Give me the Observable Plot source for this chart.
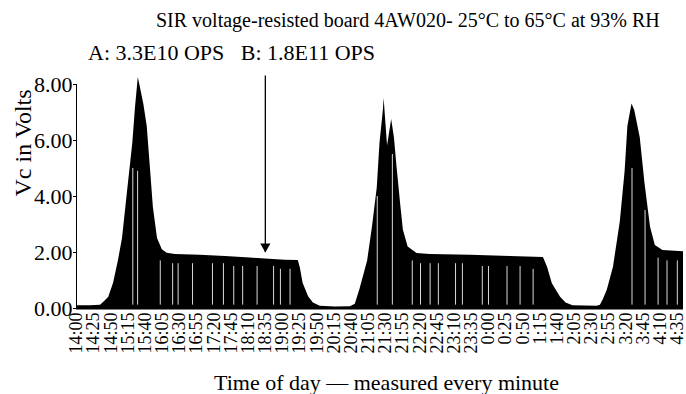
<!DOCTYPE html>
<html><head><meta charset="utf-8">
<script src="https://cdn.jsdelivr.net/npm/d3@7"></script>
<script src="https://cdn.jsdelivr.net/npm/@observablehq/plot@0.6"></script>
<style>
body{margin:0;background:#fff;font-family:"Liberation Serif",serif;color:#000;width:686px;overflow:hidden;}
#title{height:40px;line-height:40px;font-size:20px;padding-left:156px;white-space:nowrap;}
#subtitle{height:26px;line-height:26px;font-size:22px;padding-left:88px;white-space:pre;}
#chart svg{display:block;}
#xlabel{height:28px;line-height:34px;font-size:22px;padding-left:214px;white-space:nowrap;}
</style></head><body>
<div id="title"></div><div id="subtitle"></div><div id="chart"></div><div id="xlabel"></div>
<script>
const titleText = "SIR voltage-resisted board 4AW020- 25°C to 65°C at 93% RH";
const subtitleText = "A: 3.3E10 OPS   B: 1.8E11 OPS";
const xTitle = "Time of day \u2014 measured every minute";
const yTitle = "Vc in Volts";

// minutes after 14:00 and measured Vc (volts)
const minutes = [0,20,35,41,47,54,61,67,74,82,86,90,93,98,103,108,112,118,125,132,144,180,217,253,275,304,323,326,330,338,345,355,377,399,406,413,424,431,438,442,447,448,453,459,463,467,472,476,483,496,515,574,632,680,686,693,705,713,723,758,763,767,773,782,792,799,803,809,813,821,828,836,843,854,884];
const volts   = [0.10,0.10,0.12,0.25,0.40,0.90,1.70,2.50,4.10,5.90,7.20,8.25,7.90,7.30,6.50,4.90,3.60,2.50,2.10,1.97,1.93,1.90,1.86,1.80,1.77,1.72,1.71,1.45,0.90,0.42,0.20,0.08,0.05,0.06,0.15,0.70,1.70,2.90,4.30,5.90,7.10,7.50,5.80,6.75,6.10,5.00,3.75,2.80,2.20,1.96,1.93,1.90,1.86,1.82,1.47,0.88,0.40,0.20,0.10,0.08,0.12,0.30,0.65,1.47,3.10,4.90,6.50,7.30,7.07,6.10,4.45,2.90,2.25,2.07,2.03];

// minutes with a low (white) reading streak, and the height the streak reaches
const gapMinutes = [82,89,122,140,148,169,198,214,229,242,263,287,297,311,438,460,489,501,515,527,552,562,591,600,627,646,665,809,828,847,860,875];
const gapTopV    = [5.0,4.9,1.7,1.6,1.6,1.6,1.6,1.6,1.5,1.5,1.5,1.5,1.4,1.4,4.0,5.5,1.7,1.6,1.6,1.6,1.6,1.6,1.5,1.5,1.5,1.5,1.4,5.0,3.5,1.8,1.7,1.7];

const tickLabels = ["14:00","14:25","14:50","15:15","15:40","16:05","16:30","16:55","17:20","17:45","18:10","18:35","19:00","19:25","19:50","20:15","20:40","21:05","21:30","21:55","22:20","22:45","23:10","23:35","0:00","0:25","0:50","1:15","1:40","2:05","2:30","2:55","3:20","3:45","4:10","4:35"];
const yTicks = [0, 2, 4, 6, 8];

// annotation: arrow marking point B
const arrowTime = "18:35";
const arrowTopV = 8.3;
const arrowTipV = 2.0;

const toMin = s => { const [h, m] = s.split(":").map(Number); return ((h * 60 + m) - 14 * 60 + 1440) % 1440; };
const tickMinutes = tickLabels.map(toMin);
const labelOf = new Map(tickMinutes.map((m, i) => [m, tickLabels[i]]));
const series = minutes.map((m, i) => ({m, v: volts[i]}));
const gaps = gapMinutes.map((m, i) => ({m, top: gapTopV[i]}));
const arrowM = toMin(arrowTime);

const downTri = {draw(ctx, size) { const s = Math.sqrt(size); ctx.moveTo(0, 0); ctx.lineTo(-0.62 * s, -1.1 * s); ctx.lineTo(0.62 * s, -1.1 * s); ctx.closePath(); }};

document.getElementById("title").textContent = titleText;
document.getElementById("subtitle").textContent = subtitleText;
document.getElementById("xlabel").textContent = xTitle;

const chart = Plot.plot({
  width: 686, height: 300,
  marginLeft: 76, marginRight: 3, marginTop: 18, marginBottom: 58,
  style: {fontFamily: "Liberation Serif", background: "white", color: "black", overflow: "visible"},
  x: {domain: [0, 884]},
  y: {domain: [0, 8]},
  marks: [
    Plot.areaY(series, {x: "m", y: "v", fill: "black"}),
    Plot.ruleX(gaps, {x: "m", y1: 0.12, y2: "top", stroke: "white", strokeWidth: 1, strokeOpacity: 0.85}),
    Plot.ruleY([0], {strokeWidth: 2}),
    Plot.ruleX([0], {y1: 0, y2: 8, strokeWidth: 1}),
    Plot.axisY({ticks: yTicks, tickFormat: d => d.toFixed(2), tickSize: 3, tickPadding: 1, fontSize: 22, label: null}),
    Plot.axisX({ticks: tickMinutes, tickFormat: d => labelOf.get(d), tickRotate: -90, tickSize: 0, tickPadding: 4, fontSize: 18, label: null}),
    Plot.ruleX([arrowM], {y1: arrowTopV, y2: arrowTipV, strokeWidth: 1.3}),
    Plot.dot([{m: arrowM, v: arrowTipV}], {x: "m", y: "v", symbol: downTri, r: 4.6, fill: "black", stroke: "none"}),
    Plot.text([yTitle], {frameAnchor: "left", dx: -53, rotate: -90, fontSize: 24})
  ]
});
document.getElementById("chart").appendChild(chart);
</script>
</body></html>
